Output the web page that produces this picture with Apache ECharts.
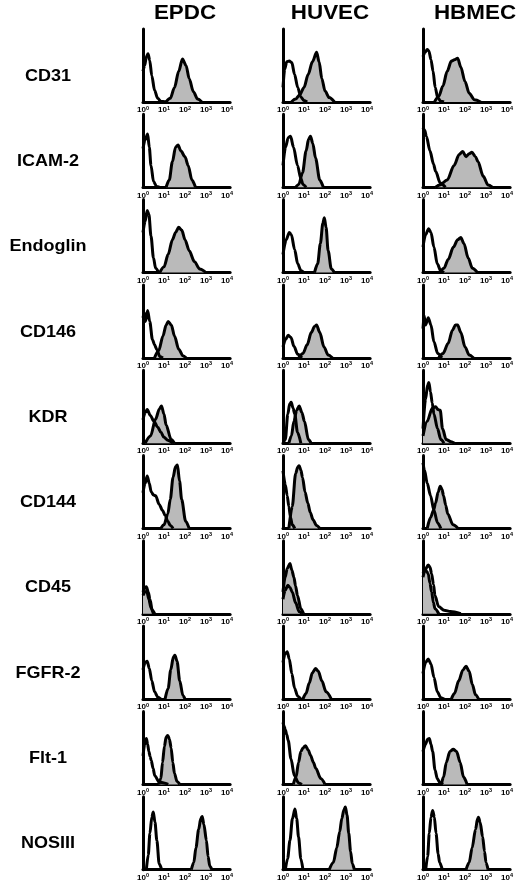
<!DOCTYPE html>
<html><head><meta charset="utf-8">
<script src="https://cdn.jsdelivr.net/npm/echarts@6/dist/echarts.min.js"></script>
<style>html,body{margin:0;padding:0;background:#fff}#c{width:520px;height:886px}</style>
</head><body><div id="c"></div>
<script>
// ---- DATA (x = log10 fluorescence, y = % of panel height) ----
const cellTypes = ['EPDC', 'HUVEC', 'HBMEC'];
const markers = ['CD31', 'ICAM-2', 'Endoglin', 'CD146', 'KDR', 'CD144', 'CD45', 'FGFR-2', 'Flt-1', 'NOSIII'];
const decadeTicks = [0, 1, 2, 3, 4];

const CD31_open = [
  [[0,42],[0.08,50],[0.16,62],[0.24,66],[0.32,57],[0.42,36],[0.55,16],[0.7,5],[0.85,1],[1.1,0]],
  [[0,20],[0.08,45],[0.18,55],[0.3,56],[0.42,54],[0.55,38],[0.7,20],[0.85,7],[1.0,2],[1.15,0]],
  [[0,62],[0.1,68],[0.2,72],[0.28,70],[0.38,58],[0.48,42],[0.58,20],[0.7,6],[0.85,1],[1.0,0]]
];
const CD31_gray = [
  [[1.1,0],[1.3,5],[1.5,20],[1.7,42],[1.88,59],[2.05,50],[2.2,32],[2.4,14],[2.6,4],[2.8,0]],
  [[0.4,0],[0.6,4],[0.8,10],[1.0,20],[1.2,38],[1.4,55],[1.6,68],[1.72,55],[1.85,32],[2.0,15],[2.2,6],[2.45,0]],
  [[0.55,0],[0.75,8],[0.95,22],[1.15,42],[1.35,56],[1.5,58],[1.65,60],[1.8,48],[2.0,28],[2.2,12],[2.45,3],[2.75,0]]
];
const ICAM2_open = [
  [[0,53],[0.1,65],[0.22,73],[0.3,55],[0.38,30],[0.5,8],[0.65,1],[0.8,0]],
  [[0,30],[0.12,55],[0.25,68],[0.36,70],[0.5,55],[0.69,30],[0.85,12],[0.95,4],[1.1,0]],
  [[0,82],[0.08,78],[0.16,70],[0.33,50],[0.5,32],[0.6,22],[0.82,6],[1.07,0]]
];
const ICAM2_gray = [
  [[1.1,0],[1.25,10],[1.4,35],[1.55,55],[1.67,58],[1.8,50],[2.0,42],[2.15,30],[2.33,10],[2.5,0]],
  [[0.6,0],[0.75,4],[0.93,20],[1.1,50],[1.22,66],[1.31,70],[1.42,60],[1.55,40],[1.75,10],[1.92,0]],
  [[0.6,0],[0.8,3],[1.15,10],[1.48,30],[1.72,45],[1.89,49],[2.05,42],[2.2,46],[2.33,48],[2.5,42],[2.62,35],[2.87,15],[3.1,3],[3.3,0]]
];
const Endoglin_open = [
  [[0,55],[0.1,70],[0.2,85],[0.28,80],[0.38,50],[0.5,20],[0.6,6],[0.75,0]],
  [[0,25],[0.15,45],[0.3,55],[0.4,52],[0.55,32],[0.7,12],[0.85,3],[1.0,0]],
  [[0,35],[0.12,52],[0.27,60],[0.38,55],[0.52,35],[0.68,12],[0.85,2],[1.0,0]]
];
const Endoglin_gray = [
  [[0.8,0],[1.0,8],[1.2,25],[1.4,45],[1.55,55],[1.7,62],[1.85,58],[2.0,45],[2.2,30],[2.45,15],[2.7,5],[3.0,0]],
  [[1.5,0],[1.65,12],[1.78,40],[1.9,68],[1.97,75],[2.05,62],[2.15,30],[2.3,5],[2.45,0]],
  [[0.8,0],[1.0,6],[1.2,18],[1.45,35],[1.65,45],[1.8,48],[1.95,40],[2.15,20],[2.35,6],[2.6,0]]
];
const CD146_open = [
  [[0,55],[0.06,62],[0.12,50],[0.22,65],[0.32,50],[0.45,25],[0.55,18],[0.65,12],[0.8,2],[0.95,0]],
  [[0,15],[0.12,25],[0.25,31],[0.38,28],[0.52,16],[0.7,5],[0.9,0]],
  [[0,40],[0.05,58],[0.12,45],[0.25,55],[0.38,45],[0.52,22],[0.7,6],[0.9,0]]
];
const CD146_gray = [
  [[0.55,0],[0.75,10],[0.95,30],[1.1,45],[1.2,50],[1.35,45],[1.5,30],[1.7,12],[1.9,3],[2.05,0]],
  [[0.75,0],[0.95,6],[1.15,18],[1.35,35],[1.5,43],[1.6,45],[1.75,35],[1.95,15],[2.15,4],[2.35,0]],
  [[0.75,0],[0.95,6],[1.2,20],[1.4,38],[1.55,45],[1.65,45],[1.8,35],[2.0,15],[2.2,4],[2.4,0]]
];
const KDR_open = [
  [[0,32],[0.1,42],[0.2,46],[0.35,38],[0.52,30],[0.7,22],[0.85,15],[1.0,8],[1.18,4],[1.43,0]],
  [[0,0],[0.11,5],[0.23,40],[0.32,54],[0.39,56],[0.48,48],[0.56,40],[0.69,15],[0.85,0]],
  [[0,20],[0.12,60],[0.22,80],[0.28,83],[0.36,70],[0.44,55],[0.52,40],[0.69,20],[0.85,5],[1.0,0]]
];
const KDR_gray = [
  [[0.1,0],[0.36,10],[0.6,33],[0.78,47],[0.88,51],[1.0,40],[1.1,25],[1.34,5],[1.5,0]],
  [[0.28,0],[0.4,10],[0.52,30],[0.65,45],[0.77,51],[0.9,42],[1.02,30],[1.21,5],[1.34,0]],
  [[0,10],[0.2,30],[0.44,48],[0.6,50],[0.72,46],[0.82,45],[0.93,20],[1.1,5],[1.34,2],[1.5,0]]
];
const CD144_open = [
  [[0,49],[0.1,62],[0.2,72],[0.3,62],[0.39,50],[0.5,46],[0.6,45],[0.77,33],[0.93,25],[1.05,18],[1.18,10],[1.3,4],[1.43,0]],
  [[0,79],[0.11,60],[0.2,45],[0.28,30],[0.36,15],[0.44,5],[0.56,0]],
  [[0,90],[0.07,80],[0.2,62],[0.36,45],[0.52,25],[0.69,8],[0.85,0]]
];
const CD144_gray = [
  [[0.85,0],[1.0,5],[1.18,20],[1.3,40],[1.43,70],[1.55,85],[1.64,87],[1.74,65],[1.84,40],[2.03,10],[2.2,0]],
  [[0.28,0],[0.44,30],[0.6,75],[0.7,84],[0.77,86],[0.85,80],[0.93,70],[1.05,50],[1.18,35],[1.3,22],[1.43,12],[1.6,4],[1.75,0]],
  [[0.2,0],[0.36,15],[0.5,25],[0.6,35],[0.72,50],[0.82,58],[0.9,54],[0.98,45],[1.08,32],[1.18,20],[1.43,5],[1.67,0]]
];
const CD45_open = [
  [[0,25],[0.1,30],[0.18,31],[0.28,20],[0.38,8],[0.5,0]],
  [[0,20],[0.1,32],[0.23,39],[0.33,36],[0.44,30],[0.6,15],[0.77,3],[0.9,0]],
  [[0,50],[0.1,60],[0.25,67],[0.33,64],[0.41,55],[0.5,40],[0.57,25],[0.74,10],[1.0,5],[1.31,3],[1.8,0]]
];
const CD45_gray = [
  [[0,30],[0.08,35],[0.16,37],[0.25,30],[0.33,20],[0.44,5],[0.56,0]],
  [[0,30],[0.1,50],[0.2,62],[0.33,69],[0.42,60],[0.52,50],[0.6,38],[0.69,25],[0.85,7],[0.98,0]],
  [[0,55],[0.06,58],[0.11,60],[0.18,58],[0.25,55],[0.33,42],[0.41,30],[0.5,15],[0.57,7],[0.75,0]]
];
const FGFR2_open = [
  [[0,40],[0.1,50],[0.2,52],[0.3,42],[0.42,25],[0.55,10],[0.7,3],[0.85,0]],
  [[0,50],[0.1,62],[0.2,65],[0.3,55],[0.42,35],[0.55,15],[0.7,4],[0.85,0]],
  [[0,35],[0.12,50],[0.25,55],[0.38,48],[0.52,30],[0.68,10],[0.85,2],[1.0,0]]
];
const FGFR2_gray = [
  [[1.05,0],[1.2,15],[1.32,40],[1.45,58],[1.52,60],[1.62,52],[1.75,25],[1.9,5],[2.0,0]],
  [[0.95,0],[1.1,8],[1.25,22],[1.4,36],[1.55,42],[1.68,38],[1.85,25],[2.05,10],[2.3,0]],
  [[1.35,0],[1.5,8],[1.7,25],[1.9,40],[2.05,45],[2.2,38],[2.35,20],[2.5,6],[2.65,0]]
];
const Flt1_open = [
  [[0,39],[0.08,55],[0.16,63],[0.22,55],[0.28,45],[0.34,38],[0.39,33],[0.48,22],[0.56,12],[0.77,3],[1.0,2],[1.2,0]],
  [[0,85],[0.05,80],[0.11,75],[0.18,68],[0.25,60],[0.38,35],[0.54,12],[0.74,2],[0.9,0]],
  [[0,45],[0.12,55],[0.22,62],[0.3,63],[0.38,55],[0.46,45],[0.57,20],[0.68,8],[0.79,3],[0.95,0]]
];
const Flt1_gray = [
  [[0.75,0],[0.85,8],[0.93,30],[1.02,52],[1.1,65],[1.18,67],[1.26,62],[1.34,50],[1.42,30],[1.5,15],[1.62,4],[1.75,0]],
  [[0.49,0],[0.62,10],[0.74,30],[0.85,45],[0.95,50],[1.07,53],[1.2,47],[1.31,40],[1.45,30],[1.56,22],[1.8,8],[2.0,0]],
  [[0.87,0],[0.98,10],[1.11,30],[1.28,45],[1.44,48],[1.6,45],[1.77,30],[1.93,10],[2.1,0]]
];
const NOSIII_open = [
  [[0.16,0],[0.25,20],[0.33,50],[0.42,72],[0.49,79],[0.57,65],[0.66,40],[0.77,8],[0.89,0]],
  [[0.11,0],[0.22,15],[0.33,40],[0.45,70],[0.57,83],[0.65,70],[0.74,45],[0.85,15],[0.95,0]],
  [[0.13,0],[0.22,18],[0.3,50],[0.38,72],[0.46,81],[0.54,72],[0.62,50],[0.72,22],[0.79,10],[0.92,0]]
];
const NOSIII_gray = [
  [[2.3,0],[2.42,10],[2.52,30],[2.65,55],[2.75,70],[2.82,73],[2.9,62],[3.02,40],[3.1,18],[3.18,5],[3.28,0]],
  [[2.2,0],[2.4,10],[2.56,30],[2.7,52],[2.8,70],[2.9,82],[2.97,86],[3.05,75],[3.13,50],[3.22,25],[3.3,8],[3.4,0]],
  [[2.05,0],[2.2,10],[2.34,30],[2.5,55],[2.6,70],[2.64,72],[2.72,65],[2.84,45],[2.93,25],[3.0,10],[3.1,0]]
];

const openCurves = [CD31_open, ICAM2_open, Endoglin_open, CD146_open, KDR_open, CD144_open, CD45_open, FGFR2_open, Flt1_open, NOSIII_open];
const grayCurves = [CD31_gray, ICAM2_gray, Endoglin_gray, CD146_gray, KDR_gray, CD144_gray, CD45_gray, FGFR2_gray, Flt1_gray, NOSIII_gray];

// ---- LAYOUT ----
const colLeft = [143, 283, 423];
const colCenter = [185, 330, 475];
const rowBase0 = 102, rowPitch = 85.3, panelH = 73, decadePx = 21, xMax = 4.15;
const LW = 3;
const FONT = '"Liberation Sans", Arial, sans-serif';

const grid = [], xAxis = [], yAxis = [], series = [], graphic = [];
let k = 0;
markers.forEach((m, r) => {
  const base = rowBase0 + rowPitch * r;
  graphic.push({
    type: 'text', x: 48, y: base - 26, scaleX: 1.06, z: 10,
    style: { text: m, font: 'bold 17px ' + FONT, fill: '#000', textAlign: 'center', textVerticalAlign: 'middle' }
  });
  cellTypes.forEach((c, ci) => {
    grid.push({ left: colLeft[ci], top: base - panelH, width: decadePx * xMax, height: panelH, containLabel: false });
    xAxis.push({
      gridIndex: k, type: 'value', min: 0, max: xMax, interval: 1,
      axisLine: { show: true, onZero: false, lineStyle: { color: '#000', width: LW } },
      axisTick: { show: false }, splitLine: { show: false },
      axisLabel: {
        margin: 3, showMaxLabel: false,
        formatter: v => decadeTicks.includes(v) ? '{b|10}{s|' + v + '}' : '',
        rich: {
          b: { fontSize: 8, fontWeight: 'bold', fontFamily: FONT, color: '#000', lineHeight: 10 },
          s: { fontSize: 5.5, fontWeight: 'bold', fontFamily: FONT, color: '#000', lineHeight: 10, verticalAlign: 'top', padding: [0, 0, 3, 0] }
        }
      }
    });
    yAxis.push({
      gridIndex: k, type: 'value', min: 0, max: 100,
      axisLine: { show: true, onZero: false, lineStyle: { color: '#000', width: LW } },
      axisTick: { show: false }, axisLabel: { show: false }, splitLine: { show: false }
    });
    series.push({
      type: 'line', xAxisIndex: k, yAxisIndex: k, data: grayCurves[r][ci],
      symbol: 'none', smooth: 0.3, smoothMonotone: 'x',
      lineStyle: { color: '#000', width: LW }, areaStyle: { color: '#bababa', opacity: 1 }, z: 2
    });
    series.push({
      type: 'line', xAxisIndex: k, yAxisIndex: k, data: openCurves[r][ci],
      symbol: 'none', smooth: 0.3, smoothMonotone: 'x',
      lineStyle: { color: '#000', width: LW }, z: 3
    });
    k++;
  });
});
cellTypes.forEach((c, ci) => {
  graphic.push({
    type: 'text', x: colCenter[ci], y: 13, scaleX: 1.12, z: 10,
    style: { text: c, font: 'bold 20px ' + FONT, fill: '#000', textAlign: 'center', textVerticalAlign: 'middle' }
  });
});

const chart = echarts.init(document.getElementById('c'), null, { renderer: 'canvas' });
chart.setOption({ animation: false, backgroundColor: '#fff', grid, xAxis, yAxis, series, graphic });
</script>
</body></html>
